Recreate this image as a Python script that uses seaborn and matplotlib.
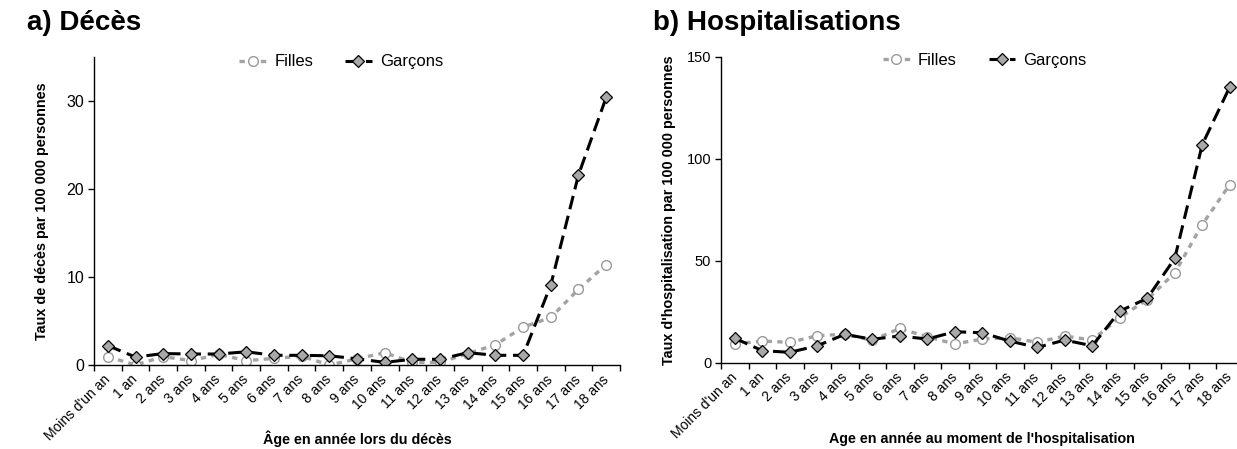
import matplotlib
matplotlib.use("Agg")
import matplotlib.pyplot as plt
import matplotlib.transforms as mtransforms
import seaborn as sns
import pandas as pd

# Age categories (x axis)
ages = ["Moins d'un an", "1 an", "2 ans", "3 ans", "4 ans", "5 ans", "6 ans",
        "7 ans", "8 ans", "9 ans", "10 ans", "11 ans", "12 ans", "13 ans",
        "14 ans", "15 ans", "16 ans", "17 ans", "18 ans"]

# a) Death rates per 100 000
deces_filles = [0.95, 0.0, 0.95, 0.5, 1.2, 0.5, 0.75, 1.0, 0.0, 0.7,
                1.4, 0.3, 0.3, 1.3, 2.3, 4.3, 5.4, 8.6, 11.4]
deces_garcons = [2.2, 0.9, 1.3, 1.25, 1.25, 1.5, 1.1, 1.1, 1.05, 0.7,
                 0.3, 0.65, 0.65, 1.4, 1.1, 1.1, 9.1, 21.6, 30.4]

# b) Hospitalisation rates per 100 000
hosp_filles = [9.2, 10.6, 10.0, 13.2, 14.0, 11.0, 16.8, 12.7, 9.2, 11.6,
               12.3, 10.0, 13.1, 11.1, 22.1, 31.0, 44.1, 67.8, 87.4]
hosp_garcons = [12.0, 5.9, 5.1, 8.3, 13.9, 11.5, 13.1, 11.6, 15.2, 14.7,
                10.6, 7.5, 11.1, 8.3, 25.3, 31.6, 51.2, 107.0, 135.3]

sns.set_style("white")
plt.rcParams["font.family"] = ["Liberation Sans", "DejaVu Sans"]
plt.rcParams.update({"text.color": "black", "axes.labelcolor": "black",
                     "xtick.color": "black", "ytick.color": "black"})

fig = plt.figure(figsize=(12.37, 4.49), dpi=100)
W, H = 1237.0, 449.0


def px_axes(left, top, right, bottom):
    return fig.add_axes([left / W, 1 - bottom / H, (right - left) / W, (bottom - top) / H])


ax1 = px_axes(94, 57, 620, 365)
ax2 = px_axes(721, 57, 1243.5, 362.7)

FILLE_COLOR = "#a3a3a3"
GARCON_FILL = "#a8a8a8"


def draw_panel(ax, filles, garcons, ymax, yticks, ylabel, xlabel, leg_x, leg_y, tick_fs):
    pos = list(range(len(ages)))
    df = pd.DataFrame({"pos": pos, "Filles": filles, "Garçons": garcons})
    sns.lineplot(data=df, x="pos", y="Filles", ax=ax, color=FILLE_COLOR,
                 linestyle=(0, (1.6, 1.6)), linewidth=2.4, marker="o",
                 markersize=7, markerfacecolor="white", markeredgecolor="#9a9a9a",
                 markeredgewidth=1.0, label="Filles")
    sns.lineplot(data=df, x="pos", y="Garçons", ax=ax, color="black",
                 linestyle=(0, (4.5, 2.2)), linewidth=2.2, marker="D",
                 markersize=6.5, markerfacecolor=GARCON_FILL, markeredgecolor="black",
                 markeredgewidth=0.9, label="Garçons")

    ax.set_xlim(-0.5, len(ages) - 0.5)
    ax.set_ylim(0, ymax)
    ax.set_yticks(yticks)
    ax.set_xticks(pos)
    ax.set_xticklabels(ages, rotation=45, ha="right", va="center",
                       rotation_mode="anchor", fontsize=10)
    shift = mtransforms.ScaledTranslation(-0.04, -0.03, fig.dpi_scale_trans)
    for lab in ax.get_xticklabels():
        lab.set_transform(lab.get_transform() + shift)
    ax.set_xticks([p - 0.5 for p in pos] + [len(ages) - 0.5], minor=True)
    ax.tick_params(axis="x", which="major", length=0, pad=9)
    ax.tick_params(axis="x", which="minor", length=4, width=1, color="black",
                   direction="out", bottom=True)
    ax.tick_params(axis="y", length=4, width=1, color="black", direction="out",
                   left=True, labelsize=tick_fs, pad=3)
    for s in ["top", "right"]:
        ax.spines[s].set_visible(False)
    for s in ["left", "bottom"]:
        ax.spines[s].set_color("black")
        ax.spines[s].set_linewidth(1.0)
    ax.set_ylabel(ylabel, fontsize=10.4, fontweight="bold", va="center")
    ax.set_xlabel(xlabel, fontsize=10.3, fontweight="bold", va="center")
    ax.grid(False)
    ax.legend(loc="center", bbox_to_anchor=(leg_x, leg_y), ncol=2, frameon=False,
              fontsize=12, handlelength=1.6, columnspacing=1.9, handletextpad=0.5)


draw_panel(ax1, deces_filles, deces_garcons, 35, [0, 10, 20, 30],
           "Taux de décès par 100 000 personnes", "Âge en année lors du décès",
           0.47, 0.984, 11.5)
draw_panel(ax2, hosp_filles, hosp_garcons, 150, [0, 50, 100, 150],
           "Taux d'hospitalisation par 100 000 personnes",
           "Age en année au moment de l'hospitalisation",
           0.505, 0.99, 10.5)

ax1.yaxis.set_label_coords(-(94 - 42.5) / 526, 0.5)
ax2.yaxis.set_label_coords(-(721 - 669) / 522.5, 0.5)
ax1.xaxis.set_label_coords(0.5, -(439 - 365) / 308)
ax2.xaxis.set_label_coords(0.5, -(439 - 362.7) / 306)

fig.text(27 / W, 1 - 23 / H, "a) Décès", fontsize=20, fontweight="bold", va="center", ha="left")
fig.text(653 / W, 1 - 23 / H, "b) Hospitalisations", fontsize=20, fontweight="bold", va="center", ha="left")

fig.savefig("out.png", dpi=100)
